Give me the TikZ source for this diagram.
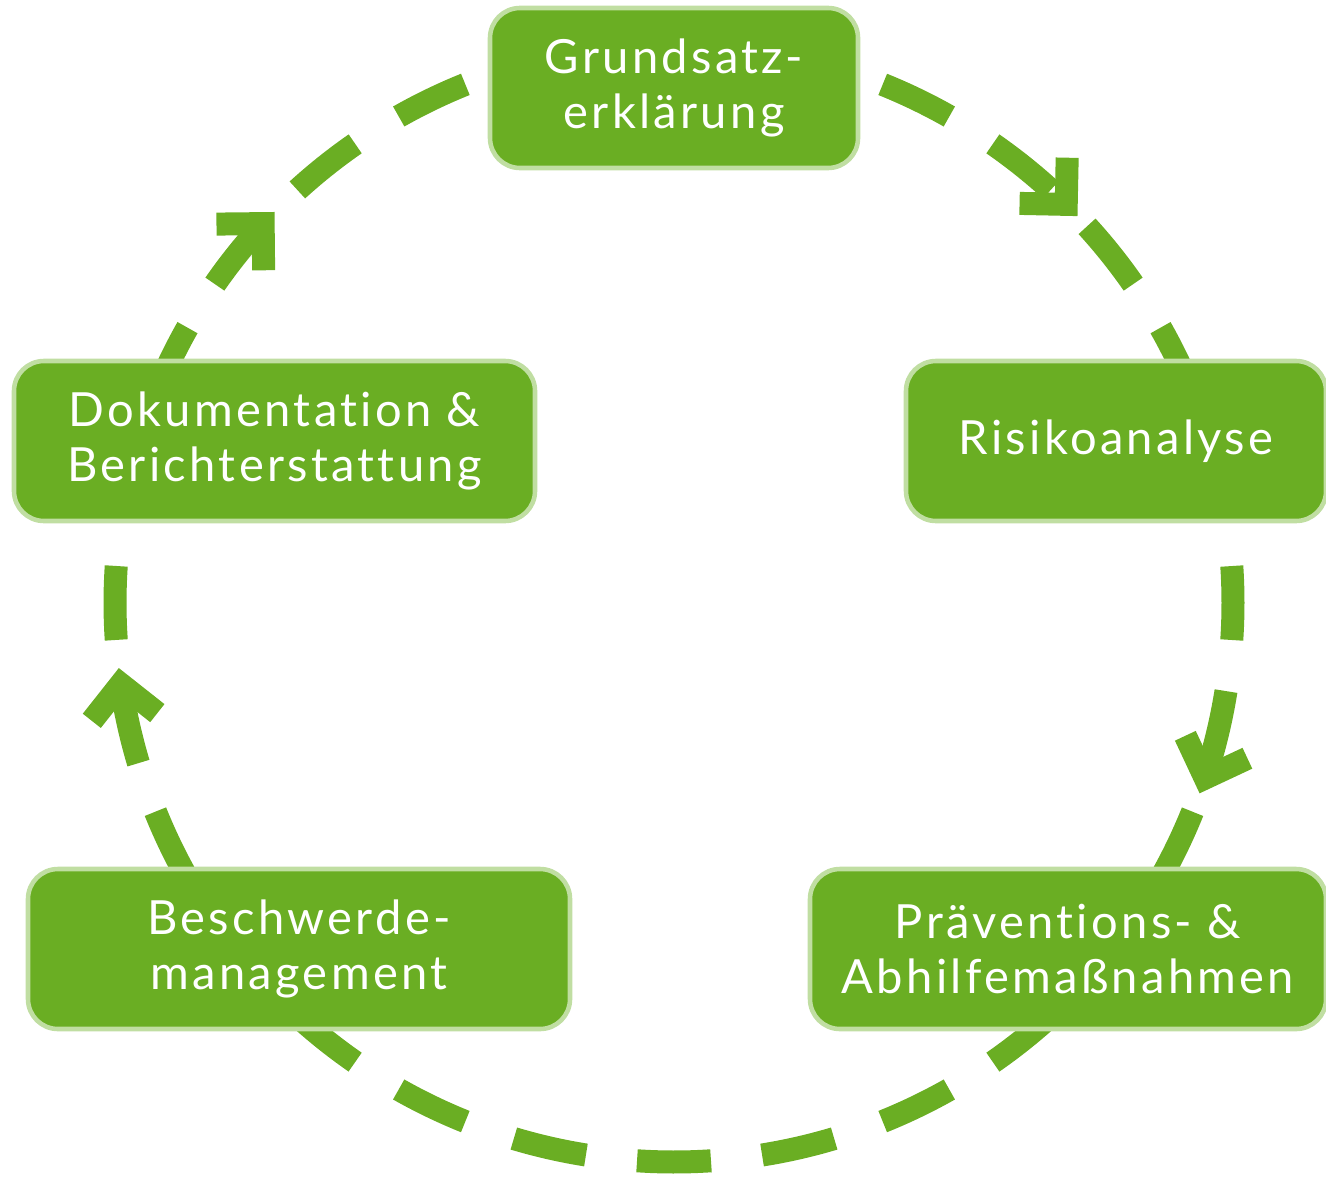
\documentclass[tikz,border=0pt]{standalone}
\usepackage{fontspec}
\setmainfont[LetterSpace=7, Ligatures=NoCommon]{Lato}
\usetikzlibrary{arrows.meta, decorations.markings, backgrounds}

\definecolor{leafgreen}{RGB}{106,174,35}
\definecolor{rimgreen}{RGB}{192,222,162}

\tikzset{
  stage/.style={draw=rimgreen, line width=1.3pt, fill=leafgreen, rounded corners=0.3cm,
    text=white, align=center, minimum height=1.6cm, inner sep=0pt,
    font=\fontsize{13.4}{15.8}\selectfont},
  ring/.style={leafgreen, line width=0.23cm, dash pattern=on 0.74cm off 0.5144cm},
  tip/.style={postaction=decorate, decoration={markings,
    mark=at position #1 with {\arrow{Straight Barb[sharp, length=3.3mm, width=6.6mm]}}}},
}

\begin{document}
\begin{tikzpicture}
    \useasboundingbox (0,0) rectangle (13.26,-11.78);

    % Stages
    \node[stage, minimum width=3.68cm] (grund) at (6.74,-0.88) {Grundsatz-\\erklärung};
    \node[stage, minimum width=4.2cm] (risiko) at (11.16,-4.41) {Risikoanalyse};
    \node[stage, minimum width=5.16cm] (praev) at (10.68,-9.49) {Präventions- \&\\Abhilfemaßnahmen};
    \node[stage, minimum width=5.42cm] (beschw) at (2.99,-9.49) {Beschwerde-\\management};
    \node[stage, minimum width=5.21cm] (doku) at (2.745,-4.41) {Dokumentation \&\\Berichterstattung};

    % Points of the cycle
    \coordinate (c) at (6.74,-6.03);
    \coordinate (pg) at ([shift={(c)}]90:5.59);
    \coordinate (pr) at ([shift={(c)}]16.9:5.59);
    \coordinate (pp) at ([shift={(c)}]-38.2:5.59);
    \coordinate (pb) at ([shift={(c)}]218.2:5.59);
    \coordinate (pd) at ([shift={(c)}]163.1:5.59);

    % Cycle
    \begin{scope}[on background layer]
        \draw[ring, dash phase=3.7mm, tip=0.632] (pg) arc[start angle=90, end angle=16.9, radius=5.59];
        \draw[ring, dash phase=12.3mm, tip=0.668] (pr) arc[start angle=16.9, end angle=-38.2, radius=5.59];
        \draw[ring, dash phase=3.34mm] (pp) arc[start angle=-38.2, end angle=-141.8, radius=5.59];
        \draw[ring, dash phase=4.06mm, tip=0.572] (pb) arc[start angle=218.2, end angle=163.1, radius=5.59];
        \draw[ring, dash phase=7.64mm, tip=0.376] (pd) arc[start angle=163.1, end angle=90, radius=5.59];
    \end{scope}

\end{tikzpicture}
\end{document}
